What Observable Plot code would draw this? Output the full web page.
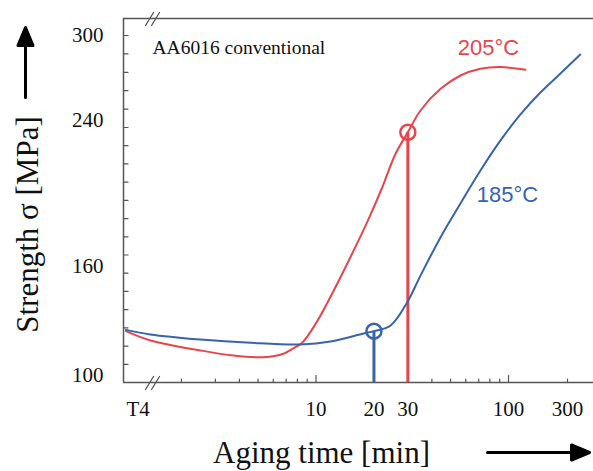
<!DOCTYPE html>
<html><head><meta charset="utf-8">
<script src="https://cdn.jsdelivr.net/npm/d3@7"></script>
<script src="https://cdn.jsdelivr.net/npm/@observablehq/plot@0.6"></script>
<style>html,body{margin:0;padding:0;background:#fff;}</style>
</head><body><div id="chart"></div>
<script>
// ---- data ----
const red205Time     = [1.03, 1.38, 2.51, 3.73, 5.34, 6.78, 7.64, 8.5, 10.06, 12.6, 15.4, 18.6, 22.1, 25.9, 30, 34.9, 44.4, 56.3, 71.5, 90.9, 137];
const red205Strength = [128.2, 123.1, 117.6, 114.8, 113.9, 115.8, 118.8, 122.0, 133.0, 152.2, 170.7, 188.9, 207.2, 225.6, 237.4, 251.1, 265.2, 273.9, 278.3, 279.4, 277.6];
const blue185Time     = [1.03, 1.38, 2.51, 4.57, 8.31, 11.9, 17.65, 20, 24.4, 29.8, 34.9, 44.4, 56.3, 71.5, 90.9, 125, 181, 263, 382];
const blue185Strength = [128.9, 126.4, 123.6, 121.8, 120.9, 122.5, 126.9, 128.2, 131.3, 144.1, 158.7, 179.8, 198.3, 216.4, 232.9, 248.5, 262.8, 275.2, 287.6];

const markerTimes     = [30, 20];
const markerStrengths = [237.4, 128.2];
const markerSeries    = ["205°C", "185°C"];

const seriesNames  = ["205°C", "185°C"];
const seriesColors = ["#e6454b", "#3764aa"];
const labelTimes     = [78.7, 98.8];
const labelStrengths = [292.2, 202.7];

const xTickValues = [1, 10, 20, 30, 100, 300];
const xTickLabels = ["T4", "10", "20", "30", "100", "300"];
const xMinorTicks = [2, 3, 4, 5, 6, 7, 8, 9, 20, 30, 40, 50, 60, 70, 80, 90, 300];
const xMajorTicks = [10, 100];
const yTickLabels = [100, 160, 240, 300];
const yMinorTicks = [110, 120, 130, 140, 150, 160, 170, 180, 190, 200, 210, 220, 230, 240, 252, 264, 276, 288, 300];
const axisBreakTime = 1.415;
const xStart = 1, xEnd = 490, yStart = 100, yEnd = 311;

// ---- tables ----
const colorOf = Object.fromEntries(seriesNames.map((s, i) => [s, seriesColors[i]]));
const red = red205Time.map((t, i) => ({t, v: red205Strength[i]}));
const blue = blue185Time.map((t, i) => ({t, v: blue185Strength[i]}));
const markers = markerTimes.map((t, i) => ({t, v: markerStrengths[i], s: markerSeries[i]}));
const labels = seriesNames.map((s, i) => ({t: labelTimes[i], v: labelStrengths[i], s}));
const xTicks = xTickValues.map((t, i) => ({t, label: xTickLabels[i]}));

const lineShape = {draw(ctx, l) { ctx.moveTo(0, 0); ctx.lineTo(0, -l); }};
const arrowShape = {draw(ctx, l) {
  const h = 18, w = 7.5;
  ctx.moveTo(0, 0); ctx.lineTo(0, -l + h);
  ctx.moveTo(-w, -l + h); ctx.lineTo(0, -l); ctx.lineTo(w, -l + h); ctx.closePath();
}};
const breakShape = {draw(ctx) {
  for (const o of [-3, 3]) { ctx.moveTo(o - 4, 6.5); ctx.lineTo(o + 4, -6.5); }
}};

const axisColor = "#555";
const serif = "Liberation Serif";
const sans = "Liberation Sans";

const chart = Plot.plot({
  width: 593, height: 471,
  marginLeft: 123, marginRight: 0, marginTop: 18, marginBottom: 89,
  style: {fontFamily: serif, background: "#fff", overflow: "visible"},
  x: {type: "log", domain: [xStart, 100, 300, xEnd], range: [123, 508, 567, 593], axis: null},
  y: {type: "linear", domain: [yStart, 240, 300, yEnd], range: [382, 127, 35, 18], axis: null},
  marks: [
    // frame
    Plot.ruleY([yStart], {x1: xStart, x2: xEnd, stroke: axisColor, strokeWidth: 1.5}),
    Plot.ruleY([yEnd], {x1: xStart, x2: xEnd, stroke: axisColor, strokeWidth: 1.5}),
    Plot.ruleX([xStart], {y1: yStart, y2: yEnd, stroke: axisColor, strokeWidth: 1.5}),
    // axis breaks
    Plot.vector([yStart, yEnd], {x: axisBreakTime, y: d => d, length: 1, shape: breakShape, stroke: axisColor, strokeWidth: 1.3}),
    // ticks
    Plot.vector(yMinorTicks, {x: xStart, y: d => d, length: 4.5, rotate: 90, anchor: "start", shape: lineShape, stroke: axisColor, strokeWidth: 1.2}),
    Plot.vector(xMinorTicks, {x: d => d, y: yStart, length: 3.5, rotate: 0, anchor: "start", shape: lineShape, stroke: axisColor, strokeWidth: 1.2}),
    Plot.vector(xMajorTicks, {x: d => d, y: yStart, length: 7, rotate: 0, anchor: "start", shape: lineShape, stroke: axisColor, strokeWidth: 1.2}),
    // tick labels
    Plot.text(xTicks.slice(0, 1), {x: "t", y: yStart, text: "label", textAnchor: "start", dx: 3, dy: 27, fontFamily: serif, fontSize: 21, fill: "#111"}),
    Plot.text(xTicks.slice(1), {x: "t", y: yStart, text: "label", dy: 27, fontFamily: serif, fontSize: 21, fill: "#111"}),
    Plot.text(yTickLabels.filter(d => d !== 300), {x: xStart, y: d => d, text: d => String(d), textAnchor: "end", dx: -20, dy: -7, fontFamily: serif, fontSize: 21, fill: "#111"}),
    Plot.text(yTickLabels.filter(d => d === 300), {x: xStart, y: d => d, text: d => String(d), textAnchor: "end", dx: -20, dy: 0, fontFamily: serif, fontSize: 21, fill: "#111"}),
    // vertical markers
    Plot.ruleX(markers, {x: "t", y1: yStart, y2: "v", stroke: d => colorOf[d.s], strokeWidth: 3}),
    // curves
    Plot.line(red, {x: "t", y: "v", stroke: seriesColors[0], strokeWidth: 2, curve: "catmull-rom"}),
    Plot.line(blue, {x: "t", y: "v", stroke: seriesColors[1], strokeWidth: 2, curve: "catmull-rom"}),
    Plot.dot(markers, {x: "t", y: "v", r: 7.5, stroke: d => colorOf[d.s], strokeWidth: 2.5, fill: "none"}),
    // series labels
    Plot.text(labels, {x: "t", y: "v", text: "s", fill: d => colorOf[d.s], fontFamily: sans, fontSize: 22}),
    // titles
    Plot.text(["AA6016 conventional"], {frameAnchor: "top-left", dx: 29, dy: 29, textAnchor: "start", lineAnchor: "middle", fontFamily: serif, fontSize: 19.5, fill: "#111"}),
    Plot.text(["Aging time [min]"], {frameAnchor: "bottom", dx: -37, dy: 71, textAnchor: "middle", lineAnchor: "middle", fontFamily: serif, fontSize: 31, fill: "#111"}),
    Plot.text(["Strength σ [MPa]"], {frameAnchor: "left", rotate: -90, dx: -95, dy: 24, textAnchor: "middle", lineAnchor: "middle", fontFamily: serif, fontSize: 31, fill: "#111"}),
    // arrows
    Plot.vector([0], {frameAnchor: "top-left", dx: -98, dy: 79, length: 70, rotate: 0, anchor: "start", shape: arrowShape, stroke: "#000", fill: "#000", strokeWidth: 3}),
    Plot.vector([0], {frameAnchor: "bottom-right", dx: -106, dy: 70, length: 102, rotate: 90, anchor: "start", shape: arrowShape, stroke: "#000", fill: "#000", strokeWidth: 3})
  ]
});
document.getElementById("chart").appendChild(chart);
</script>
</body></html>
